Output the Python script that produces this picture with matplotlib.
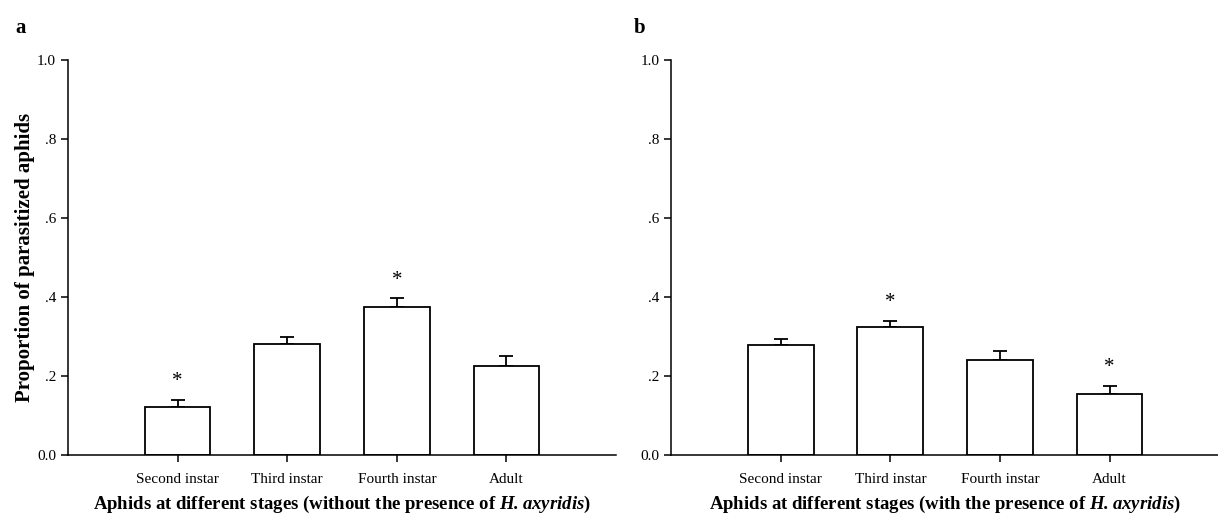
import numpy as np
import matplotlib
matplotlib.use("Agg")
import matplotlib.pyplot as plt

plt.rcParams['font.family'] = ['Liberation Serif', 'DejaVu Serif']
plt.rcParams['mathtext.fontset'] = 'custom'
plt.rcParams['mathtext.rm'] = 'Liberation Serif'
plt.rcParams['mathtext.bf'] = 'Liberation Serif:bold'
plt.rcParams['mathtext.bfit'] = 'Liberation Serif:bold:italic'

# data
stages = ['Second instar', 'Third instar', 'Fourth instar', 'Adult']
without_mean = [0.121, 0.280, 0.375, 0.226]
without_se = [0.018, 0.018, 0.021, 0.023]
without_sig = [True, False, True, False]
with_mean = [0.278, 0.324, 0.240, 0.155]
with_se = [0.016, 0.015, 0.022, 0.020]
with_sig = [False, True, False, True]
ytick_vals = [0.0, 0.2, 0.4, 0.6, 0.8, 1.0]
ytick_labels = ['0.0', '.2', '.4', '.6', '.8', '1.0']

fig = plt.figure(figsize=(12.18, 5.21), dpi=100)


def draw_panel(ax, means, ses, sig, xlabel):
    x = np.arange(len(stages))
    ax.bar(x, means, width=0.6, color='white', edgecolor='black', linewidth=1.3, zorder=2)
    # upper error bars only
    ax.errorbar(x, means, yerr=[np.zeros(len(ses)), ses], fmt='none',
                ecolor='black', elinewidth=1.3, capsize=5, capthick=1.3, zorder=1)
    for xi, m, s, star in zip(x, means, ses, sig):
        if star:
            ax.text(xi, m + s + 0.022, '*', ha='center', va='bottom', fontsize=15)
    ax.set_xlim(-1, 4)
    ax.set_ylim(0, 1.0)
    ax.set_xticks(x)
    ax.set_xticklabels(stages, fontsize=11)
    ax.set_yticks(ytick_vals)
    ax.set_yticklabels(ytick_labels, fontsize=11)
    ax.spines['top'].set_visible(False)
    ax.spines['right'].set_visible(False)
    ax.spines['left'].set_linewidth(1.1)
    ax.spines['bottom'].set_linewidth(1.1)
    ax.tick_params(axis='both', direction='out', length=5, width=1.1)
    ax.tick_params(axis='x', pad=8)
    ax.set_xlabel(xlabel, fontsize=13.5, fontweight='bold', labelpad=6)


ax1 = fig.add_axes([0.0558, 0.127, 0.45, 0.758])
draw_panel(ax1, without_mean, without_se, without_sig,
           r'Aphids at different stages (without the presence of $\mathbfit{H. axyridis}$)')
ax1.set_ylabel('Proportion of parasitized aphids', fontsize=15, fontweight='bold', labelpad=1.5)

ax2 = fig.add_axes([0.551, 0.127, 0.45, 0.758])
draw_panel(ax2, with_mean, with_se, with_sig,
           r'Aphids at different stages (with the presence of $\mathbfit{H. axyridis}$)')

fig.text(15 / 1218, 1 - 28 / 521, 'a', fontsize=15, fontweight='bold', ha='left', va='center')
fig.text(634 / 1218, 1 - 28 / 521, 'b', fontsize=15, fontweight='bold', ha='left', va='center')

fig.savefig('out.png', dpi=100)
